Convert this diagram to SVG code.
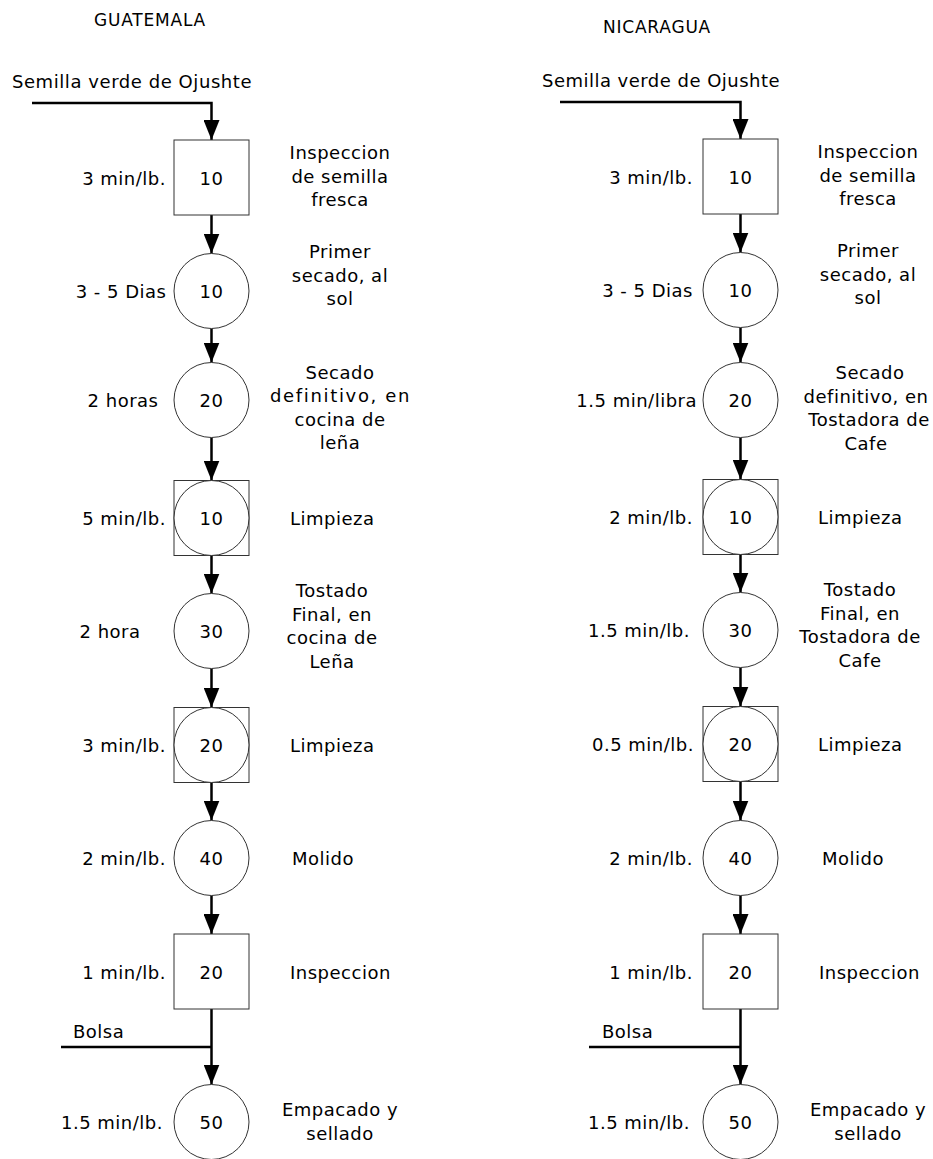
<svg xmlns="http://www.w3.org/2000/svg" width="933" height="1159" viewBox="0 0 933 1159">
  <style>
    text { font-family: "DejaVu Sans", Verdana, sans-serif; font-size: 18px; letter-spacing: 0.5px; fill: #000; }
    .head { font-size: 17px; letter-spacing: 0.8px; }
    .mid { text-anchor: middle; }
    .end { text-anchor: end; }
    .shape { fill: #fff; stroke: #333; stroke-width: 1; }
    .conn { fill: none; stroke: #000; stroke-width: 2.5; }
  </style>
  <defs>
    <marker id="arrow" markerUnits="userSpaceOnUse" markerWidth="20" markerHeight="16" refX="20" refY="8" orient="auto">
      <path d="M0,0 L20,8 L0,16 z" fill="#000"/>
    </marker>
  </defs>

  <rect width="933" height="1159" fill="#fff"/>

  <!-- column headings -->
  <text class="head mid" x="150" y="26">GUATEMALA</text>
  <text class="head mid" x="657" y="33">NICARAGUA</text>

  <!-- connectors -->
  <g id="connectors">
    <!-- Guatemala flow -->
    <path class="conn" d="M32,103 H211.5 V140" marker-end="url(#arrow)"/>
    <path class="conn" d="M211.5,215 V253.5" marker-end="url(#arrow)"/>
    <path class="conn" d="M211.5,328.5 V362.5" marker-end="url(#arrow)"/>
    <path class="conn" d="M211.5,437.5 V480.5" marker-end="url(#arrow)"/>
    <path class="conn" d="M211.5,555.5 V593.5" marker-end="url(#arrow)"/>
    <path class="conn" d="M211.5,668.5 V707.5" marker-end="url(#arrow)"/>
    <path class="conn" d="M211.5,782.5 V820.5" marker-end="url(#arrow)"/>
    <path class="conn" d="M211.5,895.5 V934" marker-end="url(#arrow)"/>
    <path class="conn" d="M211.5,1009 V1084.5" marker-end="url(#arrow)"/>
    <path class="conn" d="M61,1047 H211.5"/>
    <!-- Nicaragua flow -->
    <path class="conn" d="M560,102 H740.5 V139" marker-end="url(#arrow)"/>
    <path class="conn" d="M740.5,214 V252.5" marker-end="url(#arrow)"/>
    <path class="conn" d="M740.5,327.5 V362.5" marker-end="url(#arrow)"/>
    <path class="conn" d="M740.5,437.5 V479.5" marker-end="url(#arrow)"/>
    <path class="conn" d="M740.5,554.5 V592.5" marker-end="url(#arrow)"/>
    <path class="conn" d="M740.5,667.5 V706.5" marker-end="url(#arrow)"/>
    <path class="conn" d="M740.5,781.5 V820.5" marker-end="url(#arrow)"/>
    <path class="conn" d="M740.5,895.5 V934" marker-end="url(#arrow)"/>
    <path class="conn" d="M740.5,1009 V1084.5" marker-end="url(#arrow)"/>
    <path class="conn" d="M589,1047 H740.5"/>
  </g>

  <!-- input labels -->
  <text x="12" y="88" textLength="240">Semilla verde de Ojushte</text>
  <text x="542" y="87" textLength="238">Semilla verde de Ojushte</text>
  <text x="73" y="1038">Bolsa</text>
  <text x="602" y="1038">Bolsa</text>

  <!-- ===== Guatemala ===== -->
  <g id="gt-inspeccion-semilla">
    <rect class="shape" x="174" y="140" width="75" height="75"/>
    <text class="mid" x="211.5" y="185">10</text>
    <text class="end" x="166" y="185">3 min/lb.</text>
    <text class="mid"><tspan x="340" y="159">Inspeccion</tspan><tspan x="340" y="182.5">de semilla</tspan><tspan x="340" y="206">fresca</tspan></text>
  </g>
  <g id="gt-primer-secado">
    <circle class="shape" cx="211.5" cy="291" r="37.5"/>
    <text class="mid" x="211.5" y="298">10</text>
    <text class="end" x="166.5" y="298">3 - 5 Dias</text>
    <text class="mid"><tspan x="340" y="258">Primer</tspan><tspan x="340" y="281.5">secado, al</tspan><tspan x="340" y="305">sol</tspan></text>
  </g>
  <g id="gt-secado-definitivo">
    <circle class="shape" cx="211.5" cy="400" r="37.5"/>
    <text class="mid" x="211.5" y="407">20</text>
    <text class="mid" x="123" y="407">2 horas</text>
    <text class="mid"><tspan x="340" y="378.5">Secado</tspan><tspan x="340" y="402" textLength="140">definitivo, en</tspan><tspan x="340" y="425.5">cocina de</tspan><tspan x="340" y="449">leña</tspan></text>
  </g>
  <g id="gt-limpieza-1">
    <rect class="shape" x="174" y="480.5" width="75" height="75"/>
    <circle class="shape" cx="211.5" cy="518" r="37.5"/>
    <text class="mid" x="211.5" y="525">10</text>
    <text class="end" x="166" y="525">5 min/lb.</text>
    <text x="290" y="525">Limpieza</text>
  </g>
  <g id="gt-tostado-final">
    <circle class="shape" cx="211.5" cy="631" r="37.5"/>
    <text class="mid" x="211.5" y="638">30</text>
    <text class="mid" x="110" y="638">2 hora</text>
    <text class="mid"><tspan x="332" y="597">Tostado</tspan><tspan x="332" y="620.5">Final, en</tspan><tspan x="332" y="644">cocina de</tspan><tspan x="332" y="667.5">Leña</tspan></text>
  </g>
  <g id="gt-limpieza-2">
    <rect class="shape" x="174" y="707.5" width="75" height="75"/>
    <circle class="shape" cx="211.5" cy="745" r="37.5"/>
    <text class="mid" x="211.5" y="752">20</text>
    <text class="end" x="166" y="752">3 min/lb.</text>
    <text x="290" y="752">Limpieza</text>
  </g>
  <g id="gt-molido">
    <circle class="shape" cx="211.5" cy="858" r="37.5"/>
    <text class="mid" x="211.5" y="865">40</text>
    <text class="end" x="166" y="865">2 min/lb.</text>
    <text x="292" y="865">Molido</text>
  </g>
  <g id="gt-inspeccion">
    <rect class="shape" x="174" y="934" width="75" height="75"/>
    <text class="mid" x="211.5" y="978.5">20</text>
    <text class="end" x="166" y="978.5">1 min/lb.</text>
    <text x="290" y="978.5">Inspeccion</text>
  </g>
  <g id="gt-empacado">
    <circle class="shape" cx="211.5" cy="1122" r="37.5"/>
    <text class="mid" x="211.5" y="1129">50</text>
    <text class="end" x="163" y="1129">1.5 min/lb.</text>
    <text class="mid"><tspan x="340" y="1116">Empacado y</tspan><tspan x="340" y="1139.5">sellado</tspan></text>
  </g>

  <!-- ===== Nicaragua ===== -->
  <g id="ni-inspeccion-semilla">
    <rect class="shape" x="703" y="139" width="75" height="75"/>
    <text class="mid" x="740.5" y="184">10</text>
    <text class="end" x="693" y="184">3 min/lb.</text>
    <text class="mid"><tspan x="868" y="158">Inspeccion</tspan><tspan x="868" y="181.5">de semilla</tspan><tspan x="868" y="205">fresca</tspan></text>
  </g>
  <g id="ni-primer-secado">
    <circle class="shape" cx="740.5" cy="290" r="37.5"/>
    <text class="mid" x="740.5" y="297">10</text>
    <text class="end" x="693" y="297">3 - 5 Dias</text>
    <text class="mid"><tspan x="868" y="257">Primer</tspan><tspan x="868" y="280.5">secado, al</tspan><tspan x="868" y="304">sol</tspan></text>
  </g>
  <g id="ni-secado-definitivo">
    <circle class="shape" cx="740.5" cy="400" r="37.5"/>
    <text class="mid" x="740.5" y="407">20</text>
    <text class="end" x="697" y="407">1.5 min/libra</text>
    <text class="mid"><tspan x="870" y="379">Secado</tspan><tspan x="866" y="402.5">definitivo, en</tspan><tspan x="869" y="426">Tostadora de</tspan><tspan x="866" y="449.5">Cafe</tspan></text>
  </g>
  <g id="ni-limpieza-1">
    <rect class="shape" x="703" y="479.5" width="75" height="75"/>
    <circle class="shape" cx="740.5" cy="517" r="37.5"/>
    <text class="mid" x="740.5" y="524">10</text>
    <text class="end" x="693" y="524">2 min/lb.</text>
    <text x="818" y="524">Limpieza</text>
  </g>
  <g id="ni-tostado-final">
    <circle class="shape" cx="740.5" cy="630" r="37.5"/>
    <text class="mid" x="740.5" y="637">30</text>
    <text class="end" x="690" y="637">1.5 min/lb.</text>
    <text class="mid"><tspan x="860" y="596">Tostado</tspan><tspan x="860" y="619.5">Final, en</tspan><tspan x="860" y="643">Tostadora de</tspan><tspan x="860" y="666.5">Cafe</tspan></text>
  </g>
  <g id="ni-limpieza-2">
    <rect class="shape" x="703" y="706.5" width="75" height="75"/>
    <circle class="shape" cx="740.5" cy="744" r="37.5"/>
    <text class="mid" x="740.5" y="751">20</text>
    <text class="end" x="694" y="751">0.5 min/lb.</text>
    <text x="818" y="751">Limpieza</text>
  </g>
  <g id="ni-molido">
    <circle class="shape" cx="740.5" cy="858" r="37.5"/>
    <text class="mid" x="740.5" y="865">40</text>
    <text class="end" x="693" y="865">2 min/lb.</text>
    <text x="822" y="865">Molido</text>
  </g>
  <g id="ni-inspeccion">
    <rect class="shape" x="703" y="934" width="75" height="75"/>
    <text class="mid" x="740.5" y="978.5">20</text>
    <text class="end" x="693" y="978.5">1 min/lb.</text>
    <text x="819" y="978.5">Inspeccion</text>
  </g>
  <g id="ni-empacado">
    <circle class="shape" cx="740.5" cy="1122" r="37.5"/>
    <text class="mid" x="740.5" y="1129">50</text>
    <text class="end" x="690" y="1129">1.5 min/lb.</text>
    <text class="mid"><tspan x="868" y="1116">Empacado y</tspan><tspan x="868" y="1139.5">sellado</tspan></text>
  </g>
</svg>
